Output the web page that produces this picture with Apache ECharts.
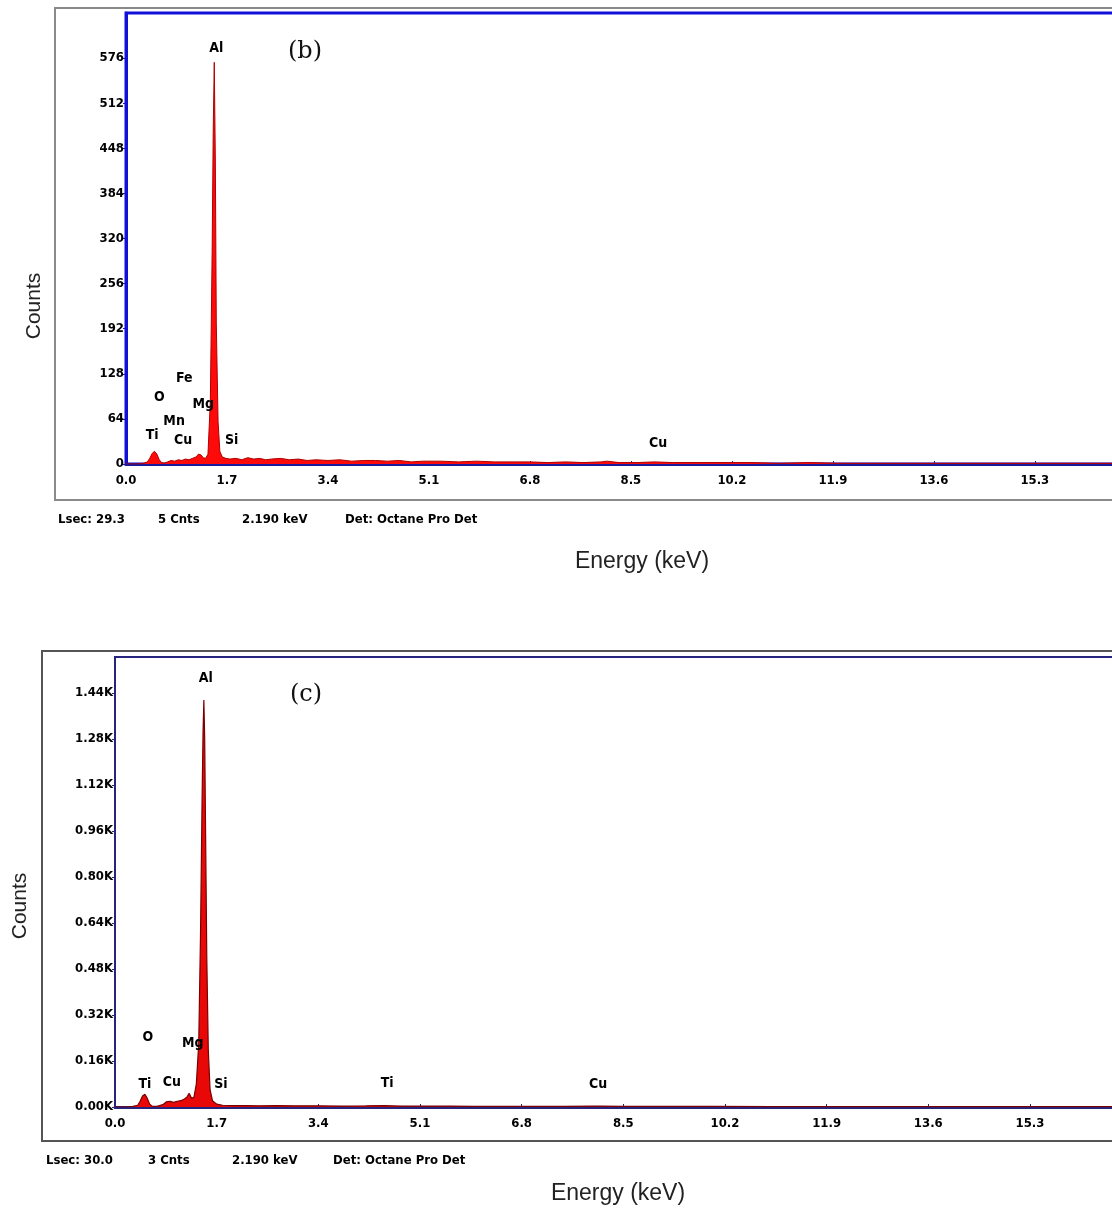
<!DOCTYPE html>
<html>
<head>
<meta charset="utf-8">
<script src="https://cdn.jsdelivr.net/npm/echarts@6/dist/echarts.min.js"></script>
<style>
html,body{margin:0;padding:0;background:#fff;}
#chart{width:1112px;height:1209px;}
</style>
</head>
<body>
<div id="chart"></div>
<script>
// ---------- DATA ----------
// Panel (b) spectrum: energy (keV) and counts
const energyB = [0.0,0.1,0.2,0.3,0.36,0.40,0.44,0.48,0.52,0.56,0.60,0.64,0.7,0.76,0.82,0.88,0.94,1.0,1.06,1.12,1.18,1.22,1.26,1.30,1.34,1.38,1.42,1.45,1.468,1.486,1.504,1.52,1.55,1.58,1.62,1.68,1.75,1.85,1.95,2.05,2.15,2.25,2.35,2.45,2.6,2.75,2.9,3.05,3.2,3.4,3.6,3.8,4.0,4.2,4.4,4.6,4.8,5.0,5.3,5.6,5.9,6.2,6.5,6.8,7.1,7.4,7.7,8.0,8.1,8.3,8.6,8.9,9.2,9.6,10.0,10.5,11.0,11.5,12.0,12.5,13.0,14.0,15.0,16.0,17.0,18.0,19.0,20.0];
const countsB = [0,0,0,1,3,8,15,18,14,6,2,1,3,5,4,6,5,7,6,8,10,14,13,9,8,14,90,300,470,570,430,200,60,18,10,8,7,8,6,9,7,8,6,7,8,6,7,5,6,5,6,4,5,5,4,5,3,4,4,3,4,3,3,3,2,3,2,3,4,2,2,3,2,2,2,2,1,2,1,1,1,1,1,1,1,1,1,1];

// Panel (c) spectrum
const energyC = [0.0,0.1,0.2,0.3,0.38,0.42,0.46,0.50,0.54,0.58,0.62,0.7,0.8,0.86,0.92,0.98,1.04,1.1,1.16,1.2,1.24,1.28,1.32,1.36,1.40,1.43,1.455,1.472,1.486,1.50,1.515,1.535,1.56,1.59,1.63,1.7,1.8,2.0,2.2,2.4,2.7,3.0,3.4,3.8,4.2,4.5,4.8,5.2,5.6,6.0,6.5,7.0,7.5,8.0,8.1,8.5,9.0,10.0,11.0,12.0,13.0,14.0,15.0,16.0,17.0,18.0,19.0,20.0];
const countsC = [0,0,0,2,6,20,38,44,30,10,3,2,8,18,20,16,20,22,28,34,48,30,34,80,220,600,1050,1300,1415,1280,950,520,200,60,22,10,6,5,5,4,5,4,4,3,4,5,3,3,3,2,2,2,2,3,3,2,2,2,1,1,1,1,1,1,1,1,1,1];

// Axis tick settings
const yTicksB = {max: 640, interval: 64};
const yTicksC = {max: 1565, interval: 160};
const xTicks = {max: 20, interval: 1.7};

// Element labels [element, energy keV, counts]
const peakLabelsB = [['Al',1.52,590],['Fe',0.98,122],['O',0.56,94],['Mg',1.30,85],['Mn',0.81,61],['Ti',0.44,40],['Cu',0.96,33],['Si',1.78,33],['Cu',8.96,30]];
const peakLabelsC = [['Al',1.52,1492],['O',0.55,243],['Mg',1.30,223],['Ti',0.50,80],['Cu',0.95,87],['Si',1.77,80],['Ti',4.55,83],['Cu',8.08,80]];

const footerB = ['Lsec: 29.3','5 Cnts','2.190 keV','Det: Octane Pro Det'];
const footerC = ['Lsec: 30.0','3 Cnts','2.190 keV','Det: Octane Pro Det'];

// ---------- CHART ----------
const NARROW = "'Liberation Sans Narrow','DejaVu Sans Condensed','Roboto Condensed',sans-serif";
const chart = echarts.init(document.getElementById('chart'));

function zip(xs, ys){ return xs.map((x,i)=>[x, ys[i]]); }
function lbl(arr){ return arr.map(a=>({name:a[0], value:[a[1],a[2]]})); }

function xAxisCfg(gi, color){
  return {
    type:'value', gridIndex:gi, min:0, max:xTicks.max, interval:xTicks.interval,
    axisLine:{show:true, lineStyle:{color:color, width:3}},
    axisTick:{show:true, inside:true, length:3, lineStyle:{color:color}},
    splitLine:{show:false},
    axisLabel:{margin:10, fontFamily:NARROW, fontWeight:'bold', fontSize:13, color:'#000',
      formatter:v=>v.toFixed(1)}
  };
}

function footerTexts(arr, xs, y){
  return arr.map((t,i)=>({type:'text', left:xs[i], top:y,
    style:{text:t, font:"bold 13px "+NARROW, fill:'#000'}}));
}

const peakLabelStyle = {show:true, position:'inside', formatter:p=>p.name, fontFamily:NARROW, fontWeight:'bold',
  fontSize:14, color:'#000', textBorderWidth:0, opacity:1};

const option = {
  animation:false,
  backgroundColor:'#fff',
  grid:[
    {left:126, top:13, width:1188, height:451, show:true, borderColor:'#1010d8', borderWidth:3, backgroundColor:'#fff', containLabel:false, outerBoundsMode:'none'},
    {left:115, top:657, width:1196, height:450, show:true, borderColor:'#25257e', borderWidth:2, backgroundColor:'#fff', containLabel:false, outerBoundsMode:'none'}
  ],
  xAxis:[xAxisCfg(0,'#1a1a9e'), xAxisCfg(1,'#25257e')],
  yAxis:[
    {type:'value', gridIndex:0, min:0, max:yTicksB.max, interval:yTicksB.interval,
      axisLine:{show:true, lineStyle:{color:'#1010d8', width:3}},
      axisTick:{show:true, length:3, lineStyle:{color:'#1010d8'}},
      splitLine:{show:false},
      axisLabel:{margin:2, showMaxLabel:false, fontFamily:NARROW, fontWeight:'bold', fontSize:13, color:'#000'}},
    {type:'value', gridIndex:1, min:0, max:yTicksC.max, interval:yTicksC.interval,
      axisLine:{show:true, lineStyle:{color:'#25257e', width:2}},
      axisTick:{show:true, length:3, lineStyle:{color:'#25257e'}},
      splitLine:{show:false},
      axisLabel:{margin:2, showMaxLabel:false, fontFamily:NARROW, fontWeight:'bold', fontSize:13, color:'#000',
        formatter:v=>(v/1000).toFixed(2)+'K'}}
  ],
  graphic:[
    // outer frames
    {type:'rect', shape:{x:55, y:8, width:1200, height:492}, style:{fill:'none', stroke:'#8a8a8a', lineWidth:2}, z:-10},
    {type:'rect', shape:{x:42, y:651, width:1200, height:490}, style:{fill:'none', stroke:'#555', lineWidth:2}, z:-10},
    // panel tags
    {type:'text', left:288, top:40, style:{text:'(b)', font:"24px 'DejaVu Serif','Liberation Serif',serif", fill:'#111'}},
    {type:'text', left:290, top:683, style:{text:'(c)', font:"24px 'DejaVu Serif','Liberation Serif',serif", fill:'#111'}},
    // axis names
    {type:'text', x:24, y:306, rotation:Math.PI/2, style:{text:'Counts', font:"21px 'Liberation Sans',Arial,sans-serif", fill:'#222', align:'center', verticalAlign:'top'}},
    {type:'text', x:10, y:906, rotation:Math.PI/2, style:{text:'Counts', font:"21px 'Liberation Sans',Arial,sans-serif", fill:'#222', align:'center', verticalAlign:'top'}},
    {type:'text', x:642, y:562, style:{text:'Energy (keV)', font:"23px 'Liberation Sans',Arial,sans-serif", fill:'#222', align:'center', verticalAlign:'middle'}},
    {type:'text', x:618, y:1194, style:{text:'Energy (keV)', font:"23px 'Liberation Sans',Arial,sans-serif", fill:'#222', align:'center', verticalAlign:'middle'}}
  ].concat(footerTexts(footerB,[58,158,242,345],513), footerTexts(footerC,[46,148,232,333],1154)),
  series:[
    {type:'line', xAxisIndex:0, yAxisIndex:0, data:zip(energyB,countsB), showSymbol:false, silent:true,
      lineStyle:{color:'#b00000', width:1}, areaStyle:{color:'#ff0a0a', opacity:1}},
    {type:'line', xAxisIndex:1, yAxisIndex:1, data:zip(energyC,countsC), showSymbol:false, silent:true,
      lineStyle:{color:'#7a0000', width:1.2}, areaStyle:{color:'#e80808', opacity:1}},
    {type:'scatter', xAxisIndex:0, yAxisIndex:0, data:lbl(peakLabelsB), symbolSize:0, silent:true, z:10,
      itemStyle:{opacity:1}, label:peakLabelStyle},
    {type:'scatter', xAxisIndex:1, yAxisIndex:1, data:lbl(peakLabelsC), symbolSize:0, silent:true, z:10,
      itemStyle:{opacity:1}, label:peakLabelStyle}
  ]
};
chart.setOption(option);
</script>
</body>
</html>
